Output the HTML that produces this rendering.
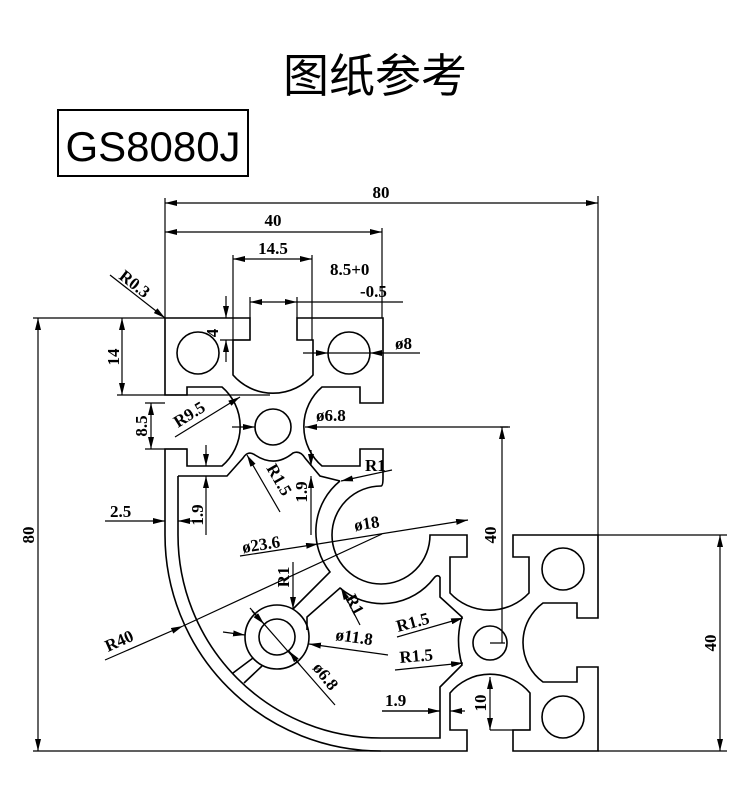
<!DOCTYPE html>
<html><head><meta charset="utf-8"><style>
html,body{margin:0;padding:0;background:#fff}
svg{display:block}
.t{font-family:"Liberation Serif","Noto Serif CJK SC",serif;font-weight:bold;font-size:17px;fill:#000}
</style></head><body>
<svg width="750" height="800" viewBox="0 0 750 800" xmlns="http://www.w3.org/2000/svg">
<defs>
<marker id="a" viewBox="0 0 12 6" refX="12" refY="3" markerWidth="12" markerHeight="6" markerUnits="userSpaceOnUse" orient="auto-start-reverse"><path d="M0,0 L12,3 L0,6 z" fill="#000"/></marker>
</defs>
<text x="375" y="92" text-anchor="middle" style="font-family:'Noto Sans CJK SC',sans-serif;font-size:46px">图纸参考</text>
<rect x="58" y="110" width="190" height="66" fill="none" stroke="#000" stroke-width="2"/>
<text x="153" y="161" text-anchor="middle" style="font-family:'Liberation Sans',sans-serif;font-size:42px">GS8080J</text>

<g fill="none" stroke="#000" stroke-width="1.6">
<!-- outer profile -->
<path d="M165,395 L165,318 L250,318 L250,340 L233,340 L233,375 A53,53 0 0 0 313,375 L313,340 L297,340 L297,318 L383,318 L383,403 L360,403 L360,387 L322,387 A52,52 0 0 0 322,466 L360,466 L360,449 L383,449 L383,478 Q383,486 381,486 A49,49 0 1 0 430,535 L467,535 L467,557 L450,557 L450,593 A54,54 0 0 0 529,593 L529,557 L513,557 L513,535 L598,535 L598,618 L577,618 L577,603 L543,603 A49,49 0 0 0 543,682 L577,682 L577,667 L598,667 L598,751 L513,751 L513,730 L530,730 L530,693 A52,52 0 0 0 450,693 L450,730 L467,730 L467,751 L381,751 A216,216 0 0 1 165,535 L165,449 L187,449 L187,466 L222,466 A52,52 0 0 0 222,387 L187,387 L187,395 Z"/>
<!-- inner wall -->
<path d="M178,476 L178,535 A203,203 0 0 0 381,738 L440,738 L440,687 L462,665 Q455,640 462,617 L440,597 L440,577"/>
<path d="M178,476 L227,476 L243,458 Q248,450 255,455 Q275,468 293,453 Q300,450 305,458 L320,476 L340,481"/>
<path d="M340,481 A65,65 0 0 0 330,572 L293,609"/>
<path d="M440,577 Q437,574 434,578 A65,65 0 0 1 340,588 L307,617 L307,630"/>
<circle cx="277" cy="637" r="32"/>
<circle cx="277" cy="637" r="18"/>
<path d="M253,658 L233,673 M262,666 L244,683"/>
<circle cx="273" cy="427" r="18"/>
<circle cx="198" cy="353" r="21"/>
<circle cx="349" cy="353" r="21"/>
<circle cx="563" cy="569" r="21"/>
<circle cx="563" cy="717" r="21"/>
<circle cx="490" cy="643" r="17"/>
</g>

<g fill="none" stroke="#000" stroke-width="1.2">
<!-- extension lines -->
<path d="M165,198 V318 M598,196 V535 M382,228 V318 M233,255 V340 M312,255 V340 M250,297 V318 M297,297 V318 M33,318 H165 M117,395 H270 M145,403 H165 M145,449 H187 M598,535 H727 M598,751 H727 M33,751 H381 M220,340 H250 M500,427 H505 M490,643 H505 M382,711 H440 M505,427 H508"/>
<!-- dims with arrows -->
<line x1="165" y1="203" x2="598" y2="203" marker-start="url(#a)" marker-end="url(#a)"/>
<line x1="165" y1="232" x2="382" y2="232" marker-start="url(#a)" marker-end="url(#a)"/>
<line x1="233" y1="259" x2="312" y2="259" marker-start="url(#a)" marker-end="url(#a)"/>
<line x1="250" y1="302" x2="297" y2="302" marker-start="url(#a)" marker-end="url(#a)"/>
<line x1="297" y1="302" x2="403" y2="302"/>
<line x1="110" y1="275" x2="165" y2="318" marker-end="url(#a)"/>
<line x1="226" y1="296" x2="226" y2="318" marker-end="url(#a)"/>
<line x1="226" y1="362" x2="226" y2="340" marker-end="url(#a)"/>
<line x1="303" y1="353" x2="328" y2="353" marker-end="url(#a)"/>
<line x1="420" y1="353" x2="370" y2="353" marker-end="url(#a)"/>
<line x1="328" y1="353" x2="370" y2="353"/>
<line x1="122" y1="318" x2="122" y2="395" marker-start="url(#a)" marker-end="url(#a)"/>
<line x1="151" y1="403" x2="151" y2="449" marker-start="url(#a)" marker-end="url(#a)"/>
<line x1="38" y1="318" x2="38" y2="751" marker-start="url(#a)" marker-end="url(#a)"/>
<line x1="720" y1="535" x2="720" y2="751" marker-start="url(#a)" marker-end="url(#a)"/>
<line x1="175" y1="437" x2="240" y2="397" marker-end="url(#a)"/>
<line x1="232" y1="427" x2="255" y2="427" marker-end="url(#a)"/>
<line x1="510" y1="427" x2="305" y2="427" marker-end="url(#a)"/>
<line x1="502" y1="643" x2="502" y2="427" marker-end="url(#a)"/>
<line x1="206" y1="445" x2="206" y2="466" marker-end="url(#a)"/>
<line x1="206" y1="535" x2="206" y2="476" marker-end="url(#a)"/>
<line x1="311" y1="450" x2="311" y2="466" marker-end="url(#a)"/>
<line x1="311" y1="535" x2="311" y2="476" marker-end="url(#a)"/>
<line x1="280" y1="512" x2="247" y2="455" marker-end="url(#a)"/>
<line x1="392" y1="470" x2="341" y2="481" marker-end="url(#a)"/>
<line x1="105" y1="521" x2="165" y2="521" marker-end="url(#a)"/>
<line x1="195" y1="521" x2="178" y2="521" marker-end="url(#a)"/>
<line x1="240" y1="556" x2="318" y2="544" marker-end="url(#a)"/>
<line x1="318" y1="544" x2="468" y2="520" marker-end="url(#a)"/>
<line x1="333" y1="542" x2="333" y2="542"/>
<line x1="105" y1="660" x2="183" y2="626" marker-end="url(#a)"/>
<line x1="183" y1="626" x2="382" y2="534"/>
<line x1="293" y1="562" x2="293" y2="609" marker-end="url(#a)"/>
<line x1="360" y1="625" x2="341" y2="588" marker-end="url(#a)"/>
<line x1="223" y1="632" x2="245" y2="635" marker-end="url(#a)"/>
<line x1="388" y1="655" x2="309" y2="644" marker-end="url(#a)"/>
<line x1="250" y1="608" x2="335" y2="705"/>
<line x1="252" y1="611" x2="264" y2="624" marker-end="url(#a)"/>
<line x1="300" y1="665" x2="289" y2="651" marker-end="url(#a)"/>
<line x1="397" y1="637" x2="463" y2="618" marker-end="url(#a)"/>
<line x1="395" y1="670" x2="463" y2="663" marker-end="url(#a)"/>
<line x1="382" y1="711" x2="440" y2="711" marker-end="url(#a)"/>
<line x1="465" y1="711" x2="450" y2="711" marker-end="url(#a)"/>
<line x1="490" y1="677" x2="490" y2="730" marker-start="url(#a)" marker-end="url(#a)"/>
<line x1="490" y1="730" x2="530" y2="730"/>
</g>

<g class="t">
<text x="381" y="198" text-anchor="middle">80</text>
<text x="273" y="226" text-anchor="middle">40</text>
<text x="273" y="254" text-anchor="middle">14.5</text>
<text x="330" y="275">8.5+0</text>
<text x="360" y="297">-0.5</text>
<text x="118" y="278" transform="rotate(38 118 278)">R0.3</text>
<text x="218" y="333" transform="rotate(-90 218 333)" text-anchor="middle">4</text>
<text x="395" y="349">ø8</text>
<text x="119" y="357" transform="rotate(-90 119 357)" text-anchor="middle">14</text>
<text x="147" y="426" transform="rotate(-90 147 426)" text-anchor="middle">8.5</text>
<text x="178" y="428" transform="rotate(-32 178 428)">R9.5</text>
<text x="316" y="421">ø6.8</text>
<text x="496" y="535" transform="rotate(-90 496 535)" text-anchor="middle">40</text>
<text x="365" y="471">R1</text>
<text x="266" y="468" transform="rotate(60 266 468)">R1.5</text>
<text x="203" y="515" transform="rotate(-90 203 515)" text-anchor="middle">1.9</text>
<text x="307" y="492" transform="rotate(-90 307 492)" text-anchor="middle">1.9</text>
<text x="110" y="517">2.5</text>
<text x="243" y="553" transform="rotate(-9 243 553)">ø23.6</text>
<text x="355" y="531" transform="rotate(-9 355 531)">ø18</text>
<text x="108" y="652" transform="rotate(-24 108 652)">R40</text>
<text x="289" y="577" transform="rotate(-90 289 577)" text-anchor="middle">R1</text>
<text x="345" y="598" transform="rotate(62 345 598)">R1</text>
<text x="335" y="640" transform="rotate(8 335 640)">ø11.8</text>
<text x="312" y="668" transform="rotate(52 312 668)">ø6.8</text>
<text x="398" y="632" transform="rotate(-15 398 632)">R1.5</text>
<text x="400" y="663" transform="rotate(-5 400 663)">R1.5</text>
<text x="385" y="706">1.9</text>
<text x="486" y="703" transform="rotate(-90 486 703)" text-anchor="middle">10</text>
<text x="716" y="643" transform="rotate(-90 716 643)" text-anchor="middle">40</text>
<text x="34" y="535" transform="rotate(-90 34 535)" text-anchor="middle">80</text>
</g>
</svg>
</body></html>
